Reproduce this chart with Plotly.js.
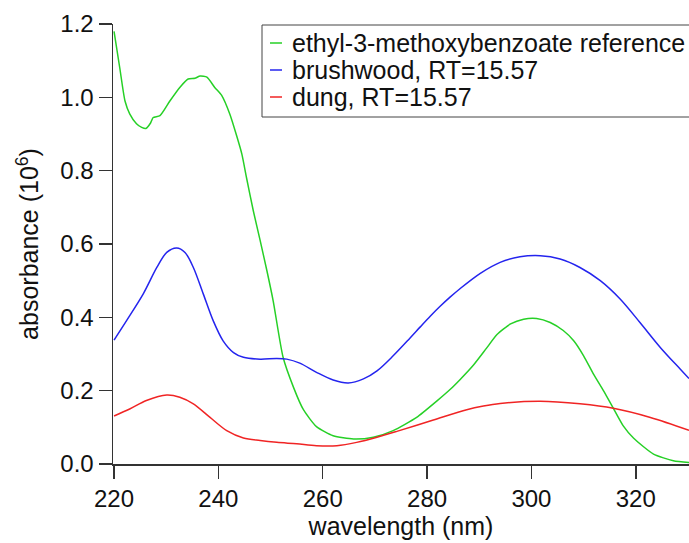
<!DOCTYPE html>
<html>
<head>
<meta charset="utf-8">
<script src="https://cdn.plot.ly/plotly-3.0.1.min.js"></script>
<style>html,body{margin:0;padding:0;background:#fff}#chart{width:689px;height:543px}</style>
</head>
<body>
<div id="chart"></div>
<script>
// ethyl-3-methoxybenzoate reference (green)
const refWavelength = [220.0,221.1,222.1,223.0,224.3,225.3,226.1,227.0,227.5,228.8,230.7,232.6,234.2,235.5,236.5,237.8,239.3,240.6,242.2,243.5,244.5,245.4,246.7,248.0,249.3,250.5,252.4,254.4,256.3,258.8,262.0,265.9,269.7,273.5,278.0,281.9,284.4,286.3,288.9,291.4,293.4,296.0,298.5,301.0,303.6,306.1,308.1,310.0,311.9,313.8,315.7,317.6,319.6,323.4,327.2,330.2];
const refAbsorbance = [1.18,1.08,0.99,0.955,0.928,0.918,0.915,0.93,0.945,0.95,0.99,1.027,1.05,1.052,1.058,1.055,1.027,1.006,0.954,0.895,0.845,0.78,0.69,0.61,0.527,0.445,0.291,0.209,0.148,0.102,0.077,0.068,0.073,0.091,0.127,0.172,0.203,0.23,0.27,0.316,0.353,0.382,0.395,0.397,0.386,0.364,0.336,0.295,0.245,0.20,0.152,0.104,0.07,0.027,0.009,0.004];

// brushwood, RT=15.57 (blue)
const brushWavelength = [220.0,222.4,225.6,228.2,230.1,232.0,233.6,235.2,237.1,239.0,240.9,242.9,244.8,248.0,251.2,253.1,255.6,258.8,262.0,264.9,267.8,270.4,273.5,276.7,278.7,280.6,282.5,284.4,286.3,290.2,294.0,297.8,301.7,305.5,309.3,313.2,317.0,320.8,324.7,328.5,330.2];
const brushAbsorbance = [0.338,0.391,0.464,0.536,0.577,0.589,0.577,0.536,0.464,0.391,0.336,0.304,0.291,0.286,0.288,0.286,0.275,0.25,0.229,0.221,0.232,0.254,0.295,0.343,0.374,0.403,0.43,0.455,0.478,0.52,0.55,0.565,0.568,0.559,0.536,0.50,0.45,0.386,0.318,0.259,0.233];

// dung, RT=15.57 (red)
const dungWavelength = [220.0,223.0,226.2,230.1,232.6,235.2,238.4,241.6,244.8,248.0,251.2,255.0,258.8,262.7,266.5,270.4,274.2,281.2,287.6,290.8,294.0,301.7,309.3,315.7,322.8,330.2];
const dungAbsorbance = [0.131,0.15,0.173,0.188,0.182,0.164,0.127,0.091,0.071,0.064,0.059,0.055,0.05,0.05,0.059,0.073,0.089,0.12,0.148,0.158,0.165,0.171,0.164,0.152,0.127,0.092];

const seriesNames = ["ethyl-3-methoxybenzoate reference","brushwood, RT=15.57","dung, RT=15.57"];
const seriesColors = ["#26d026","#2424ee","#f02424"];

const xTicks = [220,240,260,280,300,320];
const yTicks = [0.0,0.2,0.4,0.6,0.8,1.0,1.2];
const yTickText = ["0.0","0.2","0.4","0.6","0.8","1.0","1.2"];

const traces = [
  {x: refWavelength, y: refAbsorbance, name: seriesNames[0], mode: "lines", line: {color: seriesColors[0], width: 1.5, shape: "spline", smoothing: 0.6}},
  {x: brushWavelength, y: brushAbsorbance, name: seriesNames[1], mode: "lines", line: {color: seriesColors[1], width: 1.5, shape: "spline", smoothing: 0.9}},
  {x: dungWavelength, y: dungAbsorbance, name: seriesNames[2], mode: "lines", line: {color: seriesColors[2], width: 1.5, shape: "spline", smoothing: 0.9}}
];

const fam = "Liberation Sans, Arial, sans-serif";
const tickFont = {family: fam, size: 24, color: "#111"};
const titleFont = {family: fam, size: 25, color: "#111"};
const legendFont = {family: fam, size: 25, color: "#111"};

// legend drawn manually (compact rows like the reference)
const plotL = 113, plotR = 689, plotT = 24, plotB = 464;
const px2x = p => (p - plotL) / (plotR - plotL);
const px2y = p => (plotB - p) / (plotB - plotT);
const legendRowsPx = [43, 70, 97];

const shapes = [
  {type: "rect", xref: "paper", yref: "paper", x0: px2x(262), x1: px2x(700), y0: px2y(117), y1: px2y(25),
   line: {color: "#444", width: 1}, fillcolor: "#fff", layer: "above"}
];
const annotations = [];
seriesNames.forEach((name, i) => {
  shapes.push({type: "line", xref: "paper", yref: "paper", x0: px2x(270), x1: px2x(282),
    y0: px2y(legendRowsPx[i]), y1: px2y(legendRowsPx[i]), line: {color: seriesColors[i], width: 1.5}, layer: "above"});
  annotations.push({xref: "paper", yref: "paper", x: px2x(291), y: px2y(legendRowsPx[i]),
    xanchor: "left", yanchor: "middle", text: name, showarrow: false, font: legendFont, borderpad: 0});
});

const layout = {
  width: 689, height: 543,
  margin: {l: plotL, r: 689 - plotR, t: plotT, b: 543 - plotB, pad: 0},
  paper_bgcolor: "#fff", plot_bgcolor: "#fff",
  font: tickFont,
  showlegend: false,
  shapes: shapes,
  annotations: annotations,
  xaxis: {
    range: [219.8, 330.2],
    tickvals: xTicks, ticktext: xTicks.map(String),
    ticks: "outside", ticklen: 13, tickwidth: 1.5, tickcolor: "#333",
    showline: true, linecolor: "#333", linewidth: 1.5,
    showgrid: false, zeroline: false,
    title: {text: "wavelength (nm)", font: titleFont, standoff: 6},
    tickfont: tickFont
  },
  yaxis: {
    range: [0, 1.2],
    tickvals: yTicks, ticktext: yTickText,
    ticks: "outside", ticklen: 13, tickwidth: 1.5, tickcolor: "#333",
    showline: true, linecolor: "#333", linewidth: 1.5,
    showgrid: false, zeroline: false,
    title: {text: "absorbance (10<sup>6</sup>)", font: titleFont, standoff: 14},
    tickfont: tickFont
  }
};

Plotly.newPlot("chart", traces, layout, {staticPlot: true, displayModeBar: false});
</script>
</body>
</html>
